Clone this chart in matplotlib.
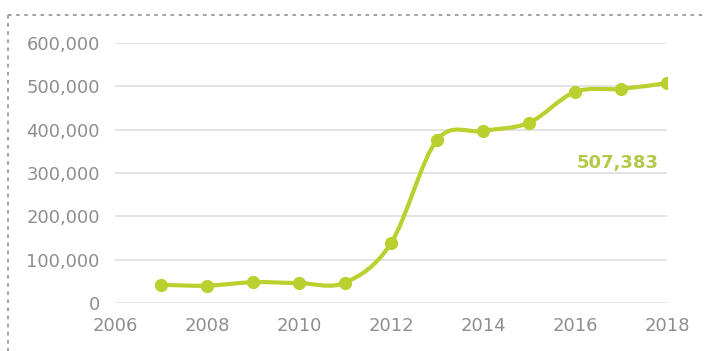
import matplotlib
matplotlib.use("Agg")
import matplotlib.pyplot as plt
from matplotlib.path import Path
from matplotlib.patches import PathPatch
from matplotlib.lines import Line2D
from matplotlib.ticker import FuncFormatter
import numpy as np

# Annual values
years = [2007, 2008, 2009, 2010, 2011, 2012, 2013, 2014, 2015, 2016, 2017, 2018]
values = [42000, 40000, 48000, 46000, 47000, 138000, 376000, 397000, 416000, 487000, 494000, 507383]
x_ticks = [2006, 2008, 2010, 2012, 2014, 2016, 2018]
y_ticks = [0, 100000, 200000, 300000, 400000, 500000, 600000]
last_label = "507,383"

GREEN = "#bad02e"
LABEL_GREEN = "#b5c84a"
GREY_TEXT = "#8e8e8e"
GRID = "#e0e0e0"

fig = plt.figure(figsize=(7.04, 3.51), dpi=100)
fig.patch.set_facecolor("white")
ax = fig.add_axes([115 / 704, 48 / 351, (667 - 115) / 704, (303 - 43) / 351])

ax.set_xlim(2006, 2018)
ax.set_ylim(0, 600000)
ax.set_xticks(x_ticks)
ax.set_yticks(y_ticks)
ax.yaxis.set_major_formatter(FuncFormatter(lambda v, _: f"{int(v):,}"))
ax.grid(axis="y", color=GRID, linewidth=1.3)
ax.set_axisbelow(True)
for s in ax.spines.values():
    s.set_visible(False)
ax.tick_params(length=0, labelsize=13, labelcolor=GREY_TEXT, pad=11)
ax.tick_params(axis="x", pad=10)

# Smoothed line: Catmull-Rom segments converted to cubic Bezier curves
xs = np.asarray(years, dtype=float)
ys = np.asarray(values, dtype=float)
n = len(xs)
verts = [(xs[0], ys[0])]
codes = [Path.MOVETO]
for i in range(n - 1):
    p0 = (xs[max(i - 1, 0)], ys[max(i - 1, 0)])
    p1 = (xs[i], ys[i])
    p2 = (xs[i + 1], ys[i + 1])
    p3 = (xs[min(i + 2, n - 1)], ys[min(i + 2, n - 1)])
    c1 = (p1[0] + (p2[0] - p0[0]) / 6, p1[1] + (p2[1] - p0[1]) / 6)
    c2 = (p2[0] - (p3[0] - p1[0]) / 6, p2[1] - (p3[1] - p1[1]) / 6)
    verts += [c1, c2, p2]
    codes += [Path.CURVE4] * 3
ax.add_patch(PathPatch(Path(verts, codes), facecolor="none", edgecolor=GREEN,
                       linewidth=3.0, capstyle="round", joinstyle="round", zorder=3))
ax.plot(years, values, linestyle="none", marker="o", markersize=8.5,
        color=GREEN, zorder=4)

ax.text(2017.82, 323000, last_label, ha="right", va="center", fontsize=13,
        fontweight="bold", color=LABEL_GREEN)

# Dotted frame around the chart
frame = dict(color="#9a9a9a", linewidth=1.3, linestyle=(0, (2, 2.5)))
fig.add_artist(Line2D([8 / 704, 1.0], [1 - 15 / 351, 1 - 15 / 351],
                      transform=fig.transFigure, **frame))
fig.add_artist(Line2D([8 / 704, 8 / 704], [1 - 15 / 351, 0.0],
                      transform=fig.transFigure, **frame))

fig.savefig("out.png", dpi=100, facecolor="white")
